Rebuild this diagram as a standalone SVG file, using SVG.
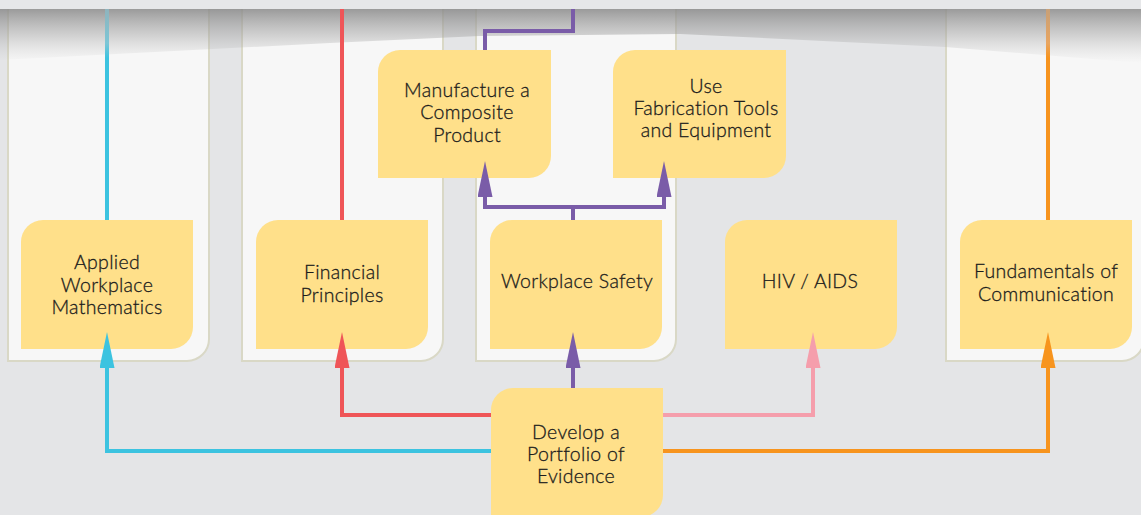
<svg xmlns="http://www.w3.org/2000/svg" width="1141" height="515" viewBox="0 0 1141 515">
<style>
.panel{fill:#f7f7f7;stroke:#d9d8c6;stroke-width:2}
.node{fill:#ffe08a}
.lbl{font-family:Lato,"Noto Sans","DejaVu Sans",sans-serif;font-size:19.5px;font-weight:300;letter-spacing:0.3px;fill:#1c1c1c;stroke:#1c1c1c;stroke-width:0.3px;text-anchor:middle}
.c{fill:none;stroke-width:4;stroke-linejoin:miter}
.cy{stroke:#3cc3e0}.rd{stroke:#ef5558}.pu{stroke:#7a5ca8}.pk{stroke:#f59eac}.or{stroke:#f7941e}
.cyt{stroke:url(#fadeCy)}.ort{stroke:url(#fadeOr)}
</style>
<defs>
<marker id="a-cy" markerUnits="userSpaceOnUse" viewBox="0 0 36 15" markerWidth="36" markerHeight="15" refX="0" refY="7.5" orient="auto"><path d="M0,0 L36,7.5 L0,15 z" fill="#3cc3e0"/></marker>
<marker id="a-rd" markerUnits="userSpaceOnUse" viewBox="0 0 36 15" markerWidth="36" markerHeight="15" refX="0" refY="7.5" orient="auto"><path d="M0,0 L36,7.5 L0,15 z" fill="#ef5558"/></marker>
<marker id="a-pu" markerUnits="userSpaceOnUse" viewBox="0 0 36 15" markerWidth="36" markerHeight="15" refX="0" refY="7.5" orient="auto"><path d="M0,0 L36,7.5 L0,15 z" fill="#7a5ca8"/></marker>
<marker id="a-pk" markerUnits="userSpaceOnUse" viewBox="0 0 36 15" markerWidth="36" markerHeight="15" refX="0" refY="7.5" orient="auto"><path d="M0,0 L36,7.5 L0,15 z" fill="#f59eac"/></marker>
<marker id="a-or" markerUnits="userSpaceOnUse" viewBox="0 0 36 15" markerWidth="36" markerHeight="15" refX="0" refY="7.5" orient="auto"><path d="M0,0 L36,7.5 L0,15 z" fill="#f7941e"/></marker>
<linearGradient id="shade" x1="0" y1="0" x2="0" y2="1">
<stop offset="0" stop-color="#8a8a8a" stop-opacity="0.85"/>
<stop offset="0.5" stop-color="#a4a4a4" stop-opacity="0.45"/>
<stop offset="1" stop-color="#c4c4c4" stop-opacity="0"/>
</linearGradient>
<linearGradient id="fadeCy" gradientUnits="userSpaceOnUse" x1="0" y1="9" x2="0" y2="58">
<stop offset="0" stop-color="#8fb4bd"/>
<stop offset="0.7" stop-color="#7cc6d6"/>
<stop offset="1" stop-color="#3cc3e0"/>
</linearGradient>
<linearGradient id="fadeOr" gradientUnits="userSpaceOnUse" x1="0" y1="9" x2="0" y2="58">
<stop offset="0" stop-color="#c7a078"/>
<stop offset="0.7" stop-color="#e9a560"/>
<stop offset="1" stop-color="#f7941e"/>
</linearGradient>
</defs>
<rect x="0" y="0" width="1141" height="515" fill="#e4e5e7"/>
<g id="panels">
<path class="panel" d="M8,-5 H209 V339 A22,22 0 0 1 187,361 H8 Z"/>
<path class="panel" d="M242,-5 H443 V339 A22,22 0 0 1 421,361 H242 Z"/>
<path class="panel" d="M476,-5 H676 V339 A22,22 0 0 1 654,361 H476 Z"/>
<path class="panel" d="M946,-5 H1144 V339 A22,22 0 0 1 1122,361 H946 Z"/>
</g>
<g id="top-shadow">
<path d="M0,9 H1141 V63 L945,47 L680,34 L480,36 L330,43 L0,60 Z" fill="url(#shade)"/>
<rect x="0" y="0" width="1141" height="9" fill="#e6e7e9"/>
</g>
<g id="node-applied">
<path class="node" d="M43,220 H193 V327 A22,22 0 0 1 171,349 H21 V242 A22,22 0 0 1 43,220 Z"/>
<text class="lbl" x="107" y="269">Applied</text>
<text class="lbl" x="107" y="292">Workplace</text>
<text class="lbl" x="107" y="314">Mathematics</text>
</g>
<g id="node-financial">
<path class="node" d="M278,220 H428 V327 A22,22 0 0 1 406,349 H256 V242 A22,22 0 0 1 278,220 Z"/>
<text class="lbl" x="342" y="279">Financial</text>
<text class="lbl" x="342" y="302">Principles</text>
</g>
<g id="node-safety">
<path class="node" d="M512,220 H662 V327 A22,22 0 0 1 640,349 H490 V242 A22,22 0 0 1 512,220 Z"/>
<text class="lbl" x="577" y="288">Workplace Safety</text>
</g>
<g id="node-hiv">
<path class="node" d="M747,220 H897 V327 A22,22 0 0 1 875,349 H725 V242 A22,22 0 0 1 747,220 Z"/>
<text class="lbl" x="810" y="288">HIV / AIDS</text>
</g>
<g id="node-communication">
<path class="node" d="M982,220 H1132 V327 A22,22 0 0 1 1110,349 H960 V242 A22,22 0 0 1 982,220 Z"/>
<text class="lbl" x="1046" y="278">Fundamentals of</text>
<text class="lbl" x="1046" y="301">Communication</text>
</g>
<g id="node-manufacture">
<path class="node" d="M400,50 H551 V156 A22,22 0 0 1 529,178 H378 V72 A22,22 0 0 1 400,50 Z"/>
<text class="lbl" x="467" y="97">Manufacture a</text>
<text class="lbl" x="467" y="119">Composite</text>
<text class="lbl" x="467" y="142">Product</text>
</g>
<g id="node-fabrication">
<path class="node" d="M635,50 H786 V156 A22,22 0 0 1 764,178 H613 V72 A22,22 0 0 1 635,50 Z"/>
<text class="lbl" x="706" y="93">Use</text>
<text class="lbl" x="706" y="115">Fabrication Tools</text>
<text class="lbl" x="706" y="137">and Equipment</text>
</g>
<g id="node-portfolio">
<path class="node" d="M513,388 H663 V495 A22,22 0 0 1 641,517 H491 V410 A22,22 0 0 1 513,388 Z"/>
<text class="lbl" x="576" y="439">Develop a</text>
<text class="lbl" x="576" y="461">Portfolio of</text>
<text class="lbl" x="576" y="483">Evidence</text>
</g>
<g id="connectors">
<path class="c cyt" d="M107,9 V220"/>
<path class="c rd" d="M342,9 V220"/>
<path class="c ort" d="M1048,9 V220"/>
<path class="c pu" d="M573,9 V31 H485 V50"/>
<path class="c pu" d="M573,220 V207"/>
<path class="c pu" d="M573,207 H485 V197" marker-end="url(#a-pu)"/>
<path class="c pu" d="M573,207 H664 V197" marker-end="url(#a-pu)"/>
<path class="c cy" d="M491,451 H107 V368" marker-end="url(#a-cy)"/>
<path class="c rd" d="M491,415 H342 V368" marker-end="url(#a-rd)"/>
<path class="c pu" d="M573,388 V368" marker-end="url(#a-pu)"/>
<path class="c pk" d="M663,415 H813 V368" marker-end="url(#a-pk)"/>
<path class="c or" d="M663,451 H1048 V368" marker-end="url(#a-or)"/>
</g>
</svg>
